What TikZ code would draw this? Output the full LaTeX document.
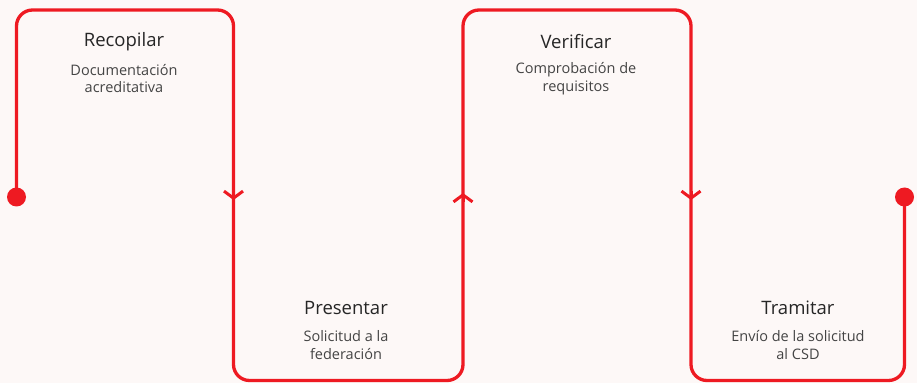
\documentclass[tikz,border=0pt]{standalone}
\usepackage{fontspec}
\setmainfont{Open Sans}
\usetikzlibrary{arrows.meta}
\definecolor{flowred}{RGB}{238,26,34}
\definecolor{bgcream}{RGB}{253,248,247}
\definecolor{titlegray}{RGB}{38,38,38}
\definecolor{notegray}{RGB}{68,68,68}

\begin{document}
\begin{tikzpicture}[x=1pt, y=1pt,
  flow/.style={draw=flowred, line width=3.3pt, rounded corners=16pt},
  chev/.style={draw=flowred, line width=3pt, -{Straight Barb[length=7pt, width=19pt]}},
  endpt/.style={circle, fill=flowred, inner sep=0pt, minimum size=19pt},
  steptitle/.style={font=\fontsize{18.5}{21}\selectfont, text=titlegray},
  stepnote/.style={font=\fontsize{14.5}{17.5}\selectfont, text=notegray, align=center}]
\fill[bgcream] (0,0) rectangle (917,383);

\draw[flow] (16.5,186) -- (16.5,373) -- (233.5,373) -- (233.5,2.5) -- (463,2.5) -- (463,373)
  -- (691,373) -- (691,2.5) -- (904.5,2.5) -- (904.5,186);

\node[endpt] (start) at (16.5,186) {};
\node[endpt] (finish) at (904.5,186) {};

\draw[chev] (233.5,192) -- (233.5,183);
\draw[chev] (463,181) -- (463,190);
\draw[chev] (691,192) -- (691,183);

\node[steptitle] (recopilar) at (124,341) {Recopilar};
\node[stepnote] (recopilar-note) at (124,304.5) {Documentación\\acreditativa};
\node[steptitle] (presentar) at (346,75) {Presentar};
\node[stepnote] (presentar-note) at (346,38) {Solicitud a la\\federación};
\node[steptitle] (verificar) at (576,341) {Verificar};
\node[stepnote] (verificar-note) at (576,304.5) {Comprobación de\\requisitos};
\node[steptitle] (tramitar) at (798,75) {Tramitar};
\node[stepnote] (tramitar-note) at (798,38) {Envío de la solicitud\\al CSD};
\end{tikzpicture}
\end{document}
